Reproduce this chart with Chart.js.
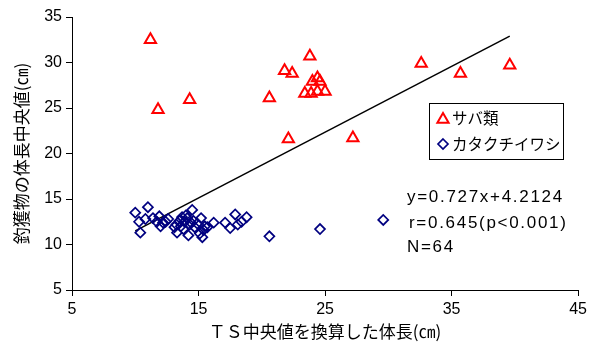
<!DOCTYPE html>
<html>
<head>
<meta charset="utf-8">
<script src="https://cdn.jsdelivr.net/npm/chart.js@4.4.0/dist/chart.umd.min.js"></script>
<style>
  html, body { margin: 0; padding: 0; background: #fff; }
</style>
</head>
<body>
<canvas id="myChart" width="591" height="345"></canvas>
<script>
// サバ類
var sabaX = [11.2, 11.8, 14.3, 20.6, 22.1, 21.8, 22.4, 23.8, 24.4, 24.0, 24.6, 23.4, 23.9, 24.4, 25.0, 27.2, 32.6, 35.7, 39.6];
var sabaY = [32.5, 24.8, 25.9, 26.1, 21.6, 29.1, 28.8, 30.7, 28.3, 27.9, 27.9, 26.6, 26.6, 26.8, 26.8, 21.7, 29.9, 28.8, 29.7];

// カタクチイワシ
var kataX = [10.0, 10.3, 10.4, 10.8, 11.0, 11.4, 11.7, 11.9, 12.2, 12.4, 12.6, 13.1, 13.3, 13.25, 13.5,
             13.7, 13.9, 14.0, 14.1, 14.3, 14.5, 14.2, 14.7, 14.6, 14.9, 15.2, 15.3, 15.4, 15.5, 15.7,
             16.2, 17.1, 17.5, 17.9, 18.1, 18.4, 18.8, 20.6, 24.6, 29.6, 12.0, 13.8, 14.4, 15.1, 13.6];
var kataY = [13.5, 12.5, 11.3, 12.8, 14.1, 12.9, 12.5, 13.1, 12.4, 12.5, 12.8, 11.9, 11.3, 12.2, 12.6,
             13.0, 12.5, 13.2, 12.9, 12.2, 13.8, 11.0, 11.9, 12.6, 12.3, 12.9, 10.8, 11.6, 12.0, 11.9,
             12.4, 12.4, 11.8, 13.3, 12.2, 12.5, 13.0, 10.9, 11.7, 12.7, 12.0, 11.7, 12.4, 11.2, 12.0];

// 回帰直線の両端
var lineX = [10.0, 39.6];
var lineY = [11.5, 32.9];

var xTicks = [5, 15, 25, 35, 45];
var yTicks = [5, 10, 15, 20, 25, 30, 35];
var legendLabels = ['サバ類', 'カタクチイワシ'];
var notes = ['y=0.727x+4.2124', 'r=0.645(p<0.001)', 'N=64'];

function toPoints(xs, ys) {
  return xs.map(function (x, i) { return { x: x, y: ys[i] }; });
}

function marker(ctx, style, x, y, color, r, w) {
  ctx.save();
  ctx.strokeStyle = color;
  ctx.lineWidth = w;
  ctx.beginPath();
  if (style === 'triangle') {
    var a = 0;
    ctx.moveTo(x + Math.sin(a) * r, y - Math.cos(a) * r);
    a += Math.PI * 2 / 3;
    ctx.lineTo(x + Math.sin(a) * r, y - Math.cos(a) * r);
    a += Math.PI * 2 / 3;
    ctx.lineTo(x + Math.sin(a) * r, y - Math.cos(a) * r);
    ctx.closePath();
  } else {
    ctx.moveTo(x, y - r); ctx.lineTo(x + r, y); ctx.lineTo(x, y + r); ctx.lineTo(x - r, y);
    ctx.closePath();
  }
  ctx.stroke();
  ctx.restore();
}

var extras = {
  id: 'extras',
  afterDraw: function (chart) {
    var ctx = chart.ctx;
    // 凡例
    ctx.save();
    ctx.strokeStyle = '#000';
    ctx.lineWidth = 1;
    ctx.strokeRect(429.5, 103.5, 134, 56);
    marker(ctx, 'triangle', 443, 119.5, '#ff0000', 6.5, 2);
    marker(ctx, 'diamond', 443, 144, '#000080', 5, 1.7);
    ctx.fillStyle = '#000';
    ctx.font = '15.5px "Noto Sans CJK JP"';
    ctx.textBaseline = 'middle';
    ctx.fillText(legendLabels[0], 452, 118);
    ctx.fillText(legendLabels[1], 452, 144);
    // 回帰式
    ctx.font = '17px "Liberation Sans"';
    ctx.letterSpacing = '1.7px';
    ctx.fillText(notes[0], 407, 197);
    ctx.fillText(notes[1], 409, 223);
    ctx.fillText(notes[2], 407, 247);
    ctx.restore();
  }
};

var ctx = document.getElementById('myChart').getContext('2d');
var chart = new Chart(ctx, {
  type: 'scatter',
  data: {
    datasets: [{
      label: legendLabels[0],
      data: toPoints(sabaX, sabaY),
      pointStyle: 'triangle',
      pointRadius: 6.5,
      pointHoverRadius: 6.5,
      borderColor: '#ff0000',
      backgroundColor: 'rgba(0,0,0,0)',
      borderWidth: 2
    }, {
      label: legendLabels[1],
      data: toPoints(kataX, kataY),
      pointStyle: 'rectRot',
      pointRadius: 5,
      pointHoverRadius: 5,
      borderColor: '#000080',
      backgroundColor: 'rgba(0,0,0,0)',
      borderWidth: 1.7
    }, {
      type: 'line',
      label: 'trend',
      data: toPoints(lineX, lineY),
      borderColor: '#000',
      borderWidth: 1.5,
      pointRadius: 0,
      fill: false
    }]
  },
  options: {
    responsive: false,
    animation: false,
    layout: { padding: { top: 17, right: 10, left: 0, bottom: 0 } },
    plugins: { legend: { display: false }, tooltip: { enabled: false } },
    scales: {
      x: {
        type: 'linear',
        min: 5, max: 45,
        afterBuildTicks: function (s) { s.ticks = xTicks.map(function (v) { return { value: v }; }); },
        afterFit: function (s) { s.height = 55; },
        grid: { drawOnChartArea: false, drawTicks: true, tickLength: 6, color: '#000' },
        border: { color: '#000', width: 1 },
        ticks: { color: '#000', font: { family: 'Liberation Sans', size: 16 }, padding: 4, maxRotation: 0 },
        title: {
          display: true,
          text: 'ＴＳ中央値を換算した体長(㎝)',
          color: '#000',
          font: { family: 'Noto Sans CJK JP', size: 17 },
          padding: { top: 0, bottom: 3 }
        }
      },
      y: {
        min: 5, max: 35,
        afterBuildTicks: function (s) { s.ticks = yTicks.map(function (v) { return { value: v }; }); },
        afterFit: function (s) { s.width = 72; },
        grid: { drawOnChartArea: false, drawTicks: true, tickLength: 6, color: '#000' },
        border: { color: '#000', width: 1 },
        ticks: { color: '#000', font: { family: 'Liberation Sans', size: 16 }, padding: 4 },
        title: {
          display: true,
          text: '釣獲物の体長中央値(㎝)',
          color: '#000',
          font: { family: 'Noto Sans CJK JP', size: 17 },
          padding: { top: 11, bottom: 0 }
        }
      }
    }
  },
  plugins: [extras]
});
</script>
</body>
</html>
